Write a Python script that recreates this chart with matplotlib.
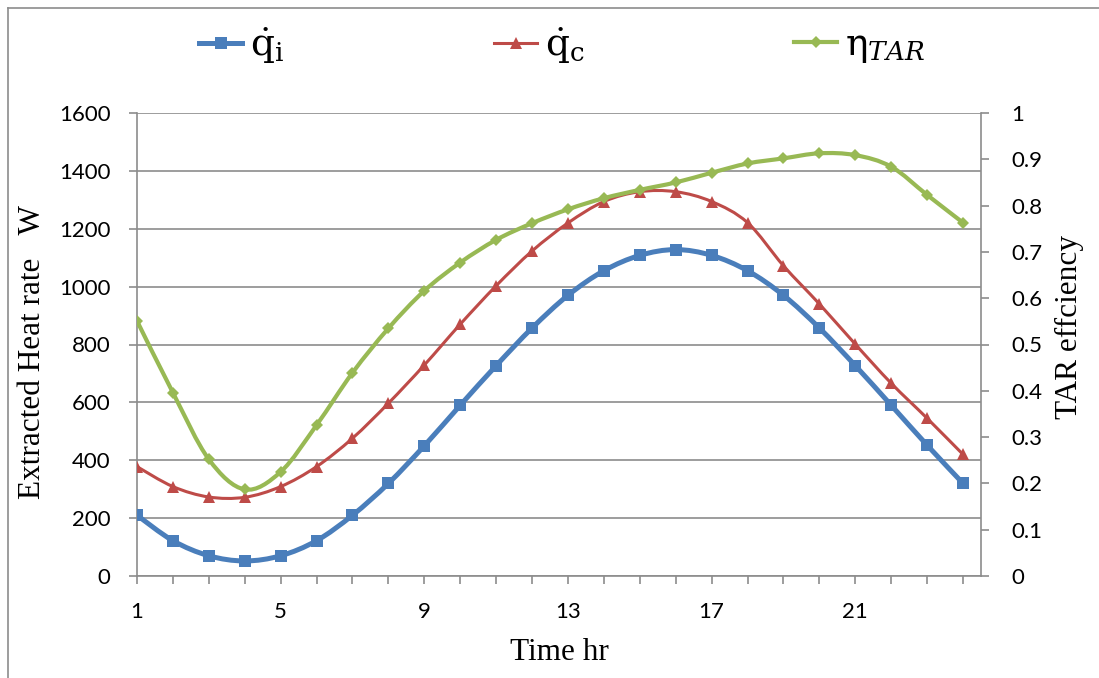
import numpy as np
import matplotlib
matplotlib.use("Agg")
import matplotlib.pyplot as plt
from matplotlib.path import Path
from matplotlib.patches import PathPatch
from matplotlib.lines import Line2D

# ---- data ----
hours = list(range(1, 25))
q_i = [210, 122, 70, 52, 70, 122, 210, 320, 450, 590, 727, 857,
       970, 1055, 1108, 1128, 1108, 1055, 970, 857, 727, 590, 452, 320]
q_c = [378, 309, 273, 272, 309, 378, 476, 597, 729, 870, 1003, 1123,
       1220, 1294, 1328, 1328, 1294, 1221, 1072, 940, 801, 666, 545, 420]
eta = [0.551, 0.396, 0.252, 0.187, 0.225, 0.326, 0.439, 0.535, 0.616, 0.677,
       0.726, 0.762, 0.792, 0.816, 0.834, 0.850, 0.871, 0.891, 0.902, 0.913,
       0.909, 0.884, 0.823, 0.763]
left_ticks = [0, 200, 400, 600, 800, 1000, 1200, 1400, 1600]
right_ticks = [0, 0.1, 0.2, 0.3, 0.4, 0.5, 0.6, 0.7, 0.8, 0.9, 1]
right_labels = ["0", "0.1", "0.2", "0.3", "0.4", "0.5", "0.6", "0.7", "0.8", "0.9", "1"]
x_labelled = [1, 5, 9, 13, 17, 21]

labels = [r"$\dot{\mathrm{q}}_{\mathrm{i}}$", r"$\dot{\mathrm{q}}_{\mathrm{c}}$", r"$\mathrm{\eta}_{TAR}$"]

BLUE = "#4A7EBB"
RED = "#BE4B48"
GREEN = "#98B954"
GRID = "#8C8C8C"

plt.rcParams["mathtext.fontset"] = "dejavuserif"
TICKFONT = "Lato"
SERIF = "Liberation Serif"


def smooth_path(xs, ys):
    """Excel-like smoothed line: Catmull-Rom converted to cubic Bezier."""
    P = np.column_stack([xs, ys]).astype(float)
    n = len(P)
    verts = [P[0]]
    codes = [Path.MOVETO]
    for i in range(n - 1):
        p0 = P[i - 1] if i > 0 else P[i]
        p1 = P[i]
        p2 = P[i + 1]
        p3 = P[i + 2] if i + 2 < n else P[i + 1]
        c1 = p1 + (p2 - p0) / 6.0
        c2 = p2 - (p3 - p1) / 6.0
        verts += [c1, c2, p2]
        codes += [Path.CURVE4] * 3
    return Path(verts, codes)


fig = plt.figure(figsize=(10.99, 6.78), dpi=100)
ax = fig.add_axes([137 / 1099, 1 - 576 / 678, (981 - 137) / 1099, (576 - 113) / 678])
ax2 = ax.twinx()

styles = [
    dict(color=BLUE, lw=3.6, marker="s", ms=8.5),
    dict(color=RED, lw=2.2, marker="^", ms=9),
    dict(color=GREEN, lw=3.0, marker="D", ms=6.5),
]

for a, ys, st in [(ax, q_i, styles[0]), (ax, q_c, styles[1]), (ax2, eta, styles[2])]:
    a.add_patch(PathPatch(smooth_path(hours, ys), fill=False, edgecolor=st["color"],
                          lw=st["lw"], capstyle="round", joinstyle="round", zorder=3))
    a.plot(hours, ys, linestyle="none", marker=st["marker"], ms=st["ms"],
           color=st["color"], markeredgewidth=0, zorder=4)

ax.set_xlim(1, 24.5)
ax.set_ylim(0, 1600)
ax2.set_ylim(0, 1)

ax.set_yticks(left_ticks)
ax.set_yticklabels([str(v) for v in left_ticks])
ax2.set_yticks(right_ticks)
ax2.set_yticklabels(right_labels)
ax.set_xticks(hours)
ax.set_xticklabels([str(h) if h in x_labelled else "" for h in hours])

ax.yaxis.grid(True, color=GRID, lw=1.2)
ax.set_axisbelow(True)

for a in (ax, ax2):
    for s in a.spines.values():
        s.set_visible(False)
ax.spines["left"].set_visible(True)
ax.spines["bottom"].set_visible(True)
ax2.spines["right"].set_visible(True)
for s in (ax.spines["left"], ax.spines["bottom"], ax2.spines["right"]):
    s.set_color(GRID)
    s.set_linewidth(1.2)

ax.tick_params(axis="both", direction="out", length=6, width=1.2, color=GRID,
               labelsize=16)
ax.tick_params(axis="y", pad=13)
ax.tick_params(axis="x", pad=13)
ax2.tick_params(axis="y", direction="out", length=6, width=1.2, color=GRID,
                labelsize=16, pad=16)
for lab in ax.get_xticklabels() + ax.get_yticklabels() + ax2.get_yticklabels():
    lab.set_fontfamily(TICKFONT)

fig.text(33 / 1099, 1 - 352 / 678, "Extracted Heat rate   W", rotation=90,
         ha="center", va="center", fontsize=22.5, family=SERIF)
fig.text(1069 / 1099, 1 - 327 / 678, "TAR effciency", rotation=90,
         ha="center", va="center", fontsize=22.5, family=SERIF)
fig.text(559 / 1099, 1 - 652 / 678, "Time hr", ha="center", va="center",
         fontsize=22.5, family=SERIF)

# legends (Excel spreads entries evenly)
leg_x = [199, 494, 794]
for (lbl, st, lx) in zip(labels, styles, leg_x):
    h = Line2D([], [], color=st["color"], lw=st["lw"], marker=st["marker"],
               ms=st["ms"], markeredgewidth=0)
    fig.legend(handles=[h], labels=[lbl], loc="center left",
               bbox_to_anchor=(lx / 1099, 1 - 46 / 678), frameon=False,
               fontsize=27, handlelength=1.15, handletextpad=0.2,
               borderpad=0, borderaxespad=0)

# outer chart border
fig.add_artist(Line2D([8 / 1099, 8 / 1099], [0, 1 - 8 / 678], color=GRID, lw=1.2,
                      transform=fig.transFigure))
fig.add_artist(Line2D([8 / 1099, 1], [1 - 8 / 678, 1 - 8 / 678], color=GRID, lw=1.2,
                      transform=fig.transFigure))

fig.savefig("out.png", dpi=100)
